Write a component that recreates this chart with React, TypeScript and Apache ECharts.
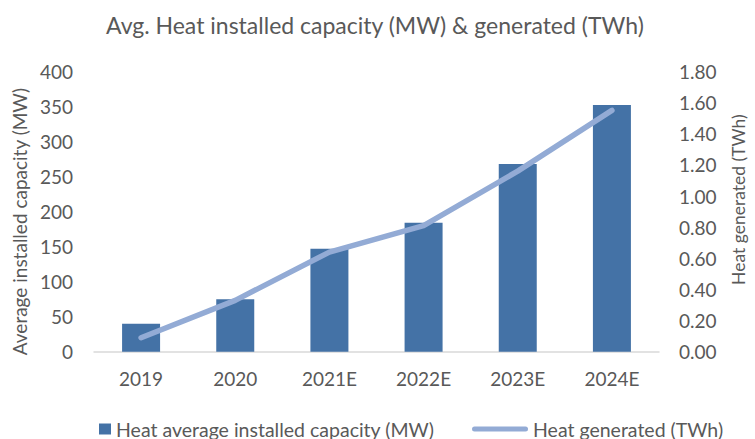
import React, { useEffect, useRef } from "react";
import * as echarts from "echarts";

const categories = ["2019", "2020", "2021E", "2022E", "2023E", "2024E"];
const capacityMW = [40, 75, 147, 184, 268, 352];
const generatedTWh = [0.09, 0.33, 0.64, 0.81, 1.16, 1.55];
const leftTicks = { min: 0, max: 400, interval: 50 };
const rightTicks = { min: 0, max: 1.8, interval: 0.2 };

const FONT = "Lato, 'Noto Sans', sans-serif";
const GREY = "#595959";
const BAR = "#4472A6";
const LINE = "#93ABD5";
const CAPSULE = "path://M2.5,0 L53.5,0 A2.5,2.5 0 0 1 53.5,5 L2.5,5 A2.5,2.5 0 0 1 2.5,0 Z";

export default function App() {
  const ref = useRef<HTMLDivElement>(null);
  useEffect(() => {
    if (!ref.current) return;
    const chart = echarts.init(ref.current, undefined, { renderer: "svg" });
    chart.setOption({
      animation: false,
      backgroundColor: "#ffffff",
      textStyle: { fontFamily: FONT },
      title: {
        text: "Avg. Heat installed capacity (MW) & generated (TWh)",
        left: 101,
        top: 8,
        textStyle: { fontFamily: FONT, fontSize: 23, fontWeight: "normal", color: GREY },
      },
      grid: { left: 94, right: 88, top: 71.5, bottom: 87.3, containLabel: false },
      legend: [
        {
          data: [{ name: "Heat average installed capacity (MW)", icon: "rect" }],
          left: 94,
          top: 414,
          itemWidth: 12,
          itemHeight: 11,
          itemGap: 5,
          textStyle: { fontFamily: FONT, fontSize: 19.5, color: GREY },
        },
        {
          data: [{ name: "Heat generated (TWh)", icon: CAPSULE }],
          left: 467,
          top: 414,
          itemWidth: 56,
          itemHeight: 5,
          textStyle: { fontFamily: FONT, fontSize: 19.5, color: GREY },
        },
      ],
      xAxis: {
        type: "category",
        data: categories,
        axisLine: { lineStyle: { color: "#d9d9d9", width: 1.5 } },
        axisTick: { show: false },
        axisLabel: { color: GREY, fontSize: 19, margin: 17, fontFamily: FONT },
      },
      yAxis: [
        {
          type: "value",
          ...leftTicks,
          name: "Average installed capacity (MW)",
          nameLocation: "middle",
          nameRotate: 90,
          nameGap: 63,
          nameTextStyle: { color: GREY, fontSize: 19, fontFamily: FONT, padding: [0, 20, 0, 0] },
          axisLine: { show: false },
          axisTick: { show: false },
          splitLine: { show: false },
          axisLabel: { color: GREY, fontSize: 19, margin: 21, fontFamily: FONT },
        },
        {
          type: "value",
          ...rightTicks,
          position: "right",
          name: "Heat generated (TWh)",
          nameLocation: "middle",
          nameRotate: 90,
          nameGap: 70,
          nameTextStyle: { color: GREY, fontSize: 17.5, fontFamily: FONT, padding: [0, 0, 0, 24] },
          axisLine: { show: false },
          axisTick: { show: false },
          splitLine: { show: false },
          axisLabel: {
            color: GREY,
            fontSize: 19,
            margin: 20,
            fontFamily: FONT,
            formatter: (v: number) => v.toFixed(2),
          },
        },
      ],
      series: [
        {
          name: "Heat average installed capacity (MW)",
          type: "bar",
          data: capacityMW,
          barWidth: 38,
          itemStyle: { color: BAR },
          yAxisIndex: 0,
        },
        {
          name: "Heat generated (TWh)",
          type: "line",
          data: generatedTWh,
          yAxisIndex: 1,
          symbol: "none",
          lineStyle: { color: LINE, width: 5.5, cap: "round", join: "round" },
          itemStyle: { color: LINE },
        },
      ],
    });
    return () => chart.dispose();
  }, []);
  return <div ref={ref} style={{ width: 755, height: 439, position: "absolute", left: 0, top: 0 }} />;
}
